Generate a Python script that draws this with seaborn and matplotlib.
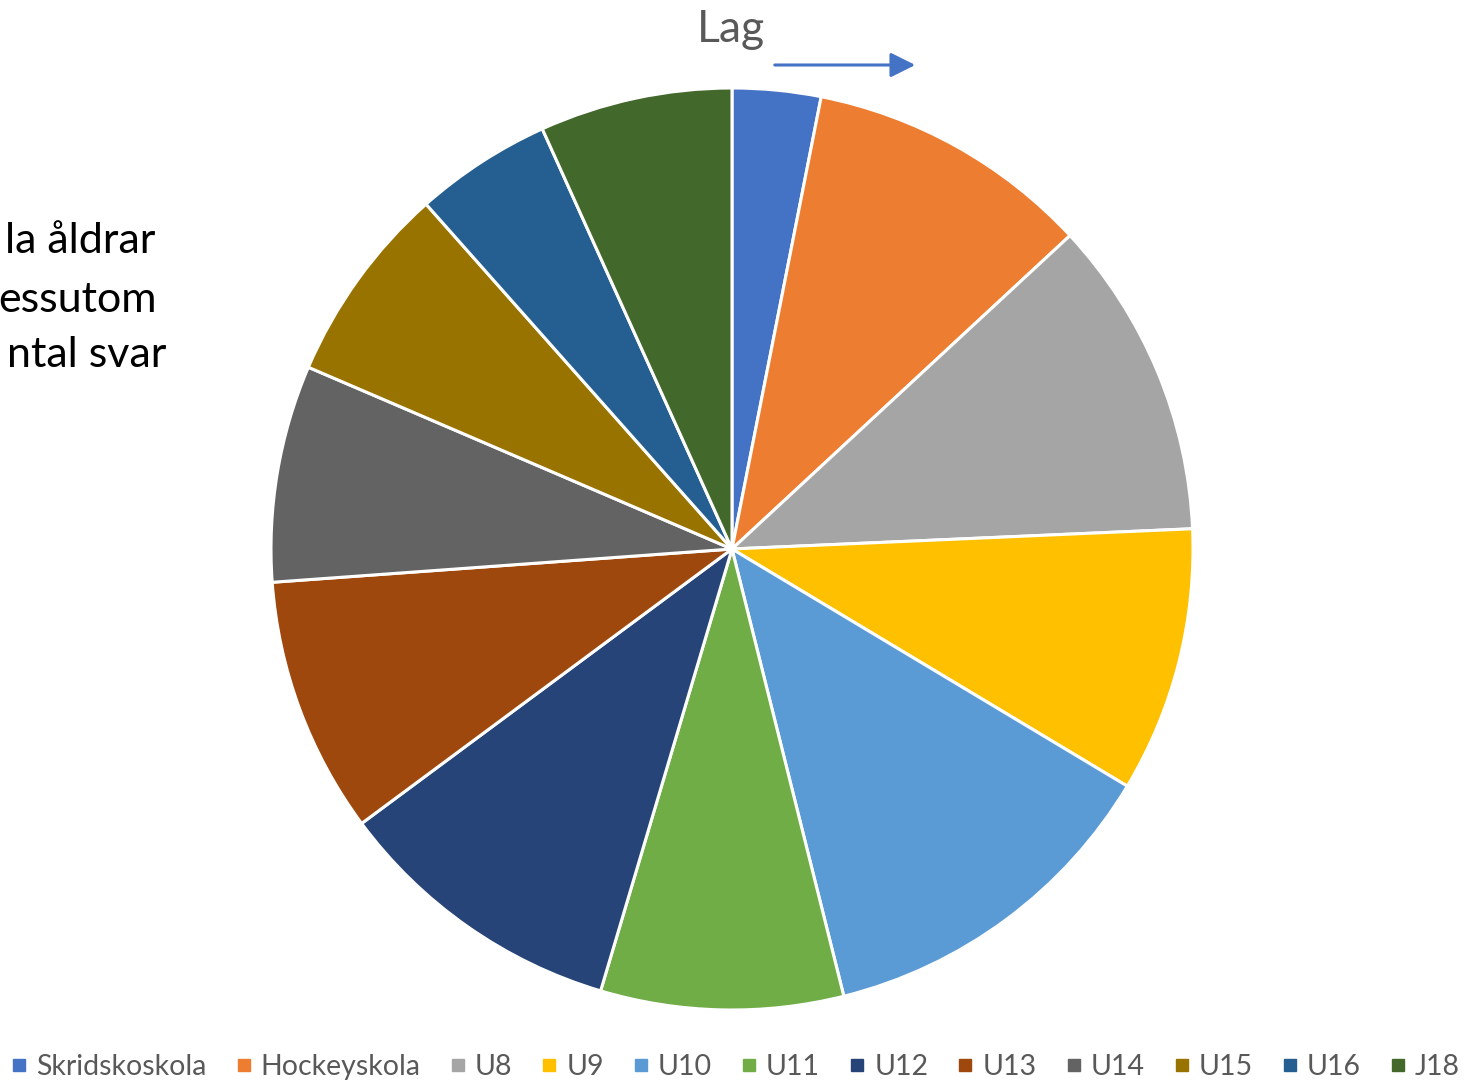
import matplotlib
matplotlib.use('Agg')
import matplotlib.pyplot as plt
import seaborn as sns
from matplotlib.lines import Line2D

sns.set_theme(style='white')
plt.rcParams['font.family'] = ['Lato', 'DejaVu Sans']

# share of answers per team (percent)
teams = ['Skridskoskola', 'Hockeyskola', 'U8', 'U9', 'U10', 'U11',
         'U12', 'U13', 'U14', 'U15', 'U16', 'J18']
shares = [3.1, 10.0, 11.2, 9.3, 12.5, 8.5, 10.25, 9.0, 7.6, 7.0, 4.8, 6.75]
colors = ['#4472C4', '#ED7D31', '#A5A5A5', '#FFC000', '#5B9BD5', '#70AD47',
          '#264478', '#9E480E', '#636363', '#997300', '#255E91', '#43682B']
side_text = ['la åldrar', 'essutom', 'ntal svar']

palette = sns.color_palette(colors)

W, H = 1466, 1082
fig = plt.figure(figsize=(W / 100, H / 100), dpi=100)

cx, cy, r = 732, 549, 461
ax = fig.add_axes([(cx - r) / W, (H - cy - r) / H, 2 * r / W, 2 * r / H])
ax.pie(shares, colors=palette, startangle=90, counterclock=False,
       wedgeprops=dict(edgecolor='white', linewidth=2.2))
ax.set_xlim(-1, 1)
ax.set_ylim(-1, 1)
ax.set_aspect('equal')
ax.axis('off')

# title and arrow
fig.text(731 / W, 1 - 42 / H, 'Lag', ha='center', va='baseline',
         fontsize=32, color='#595959')
fig.add_artist(matplotlib.patches.FancyArrowPatch(
    (772 / W, 1 - 65 / H), (918 / W, 1 - 65 / H), transform=fig.transFigure,
    arrowstyle='-|>,head_length=10,head_width=5', color='#4472C4',
    linewidth=2.2, mutation_scale=1.5))

# clipped text box on the left
for txt, xr, yb in zip(side_text, [155, 157, 166], [253, 312, 367]):
    fig.text(xr / W, 1 - yb / H, txt, ha='right', va='baseline',
             fontsize=31, color='black')

handles = [Line2D([0], [0], marker='s', linestyle='', markersize=8,
                  markerfacecolor=c, markeredgecolor=c) for c in colors]
fig.legend(handles, teams, loc='center', bbox_to_anchor=(736 / W, 1 - 1067 / H),
           ncol=12, frameon=False, fontsize=20.5, labelcolor='#595959',
           handlelength=0.5, handletextpad=0.35, columnspacing=1.05)

fig.savefig('out.png', dpi=100)
